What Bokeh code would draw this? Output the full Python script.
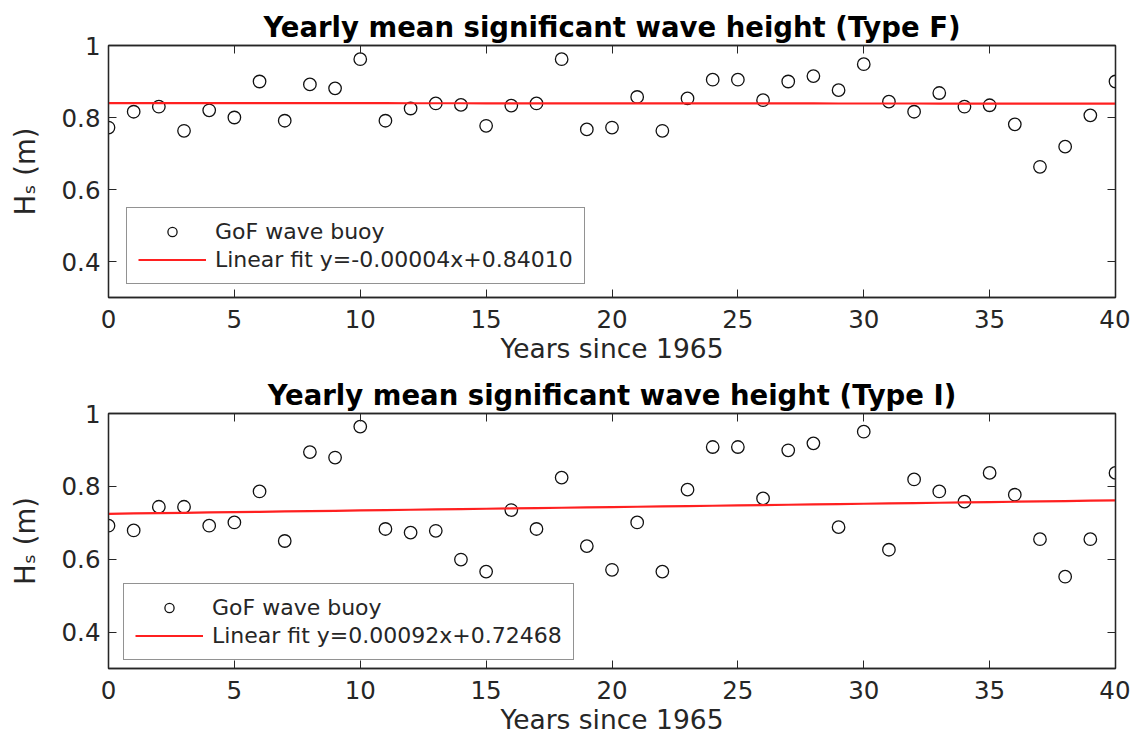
from bokeh.plotting import figure
from bokeh.models import (LinearAxis, FixedTicker, CustomJSTickFormatter, Legend,
                          LegendItem, Range1d)
from bokeh.layouts import column
from bokeh.embed import file_html
from bokeh.resources import INLINE

# ---------------- data ----------------
years = list(range(41))
hs_type_f = [0.772, 0.816, 0.830, 0.763, 0.820, 0.800, 0.900, 0.791, 0.892, 0.881,
             0.962, 0.791, 0.825, 0.839, 0.835, 0.777, 0.833, 0.839, 0.962, 0.767,
             0.772, 0.857, 0.763, 0.853, 0.905, 0.905, 0.848, 0.900, 0.915, 0.876,
             0.948, 0.844, 0.816, 0.868, 0.830, 0.834, 0.781, 0.663, 0.719, 0.806,
             0.900]
hs_type_i = [0.692, 0.679, 0.744, 0.744, 0.692, 0.701, 0.786, 0.650, 0.894, 0.879,
             0.964, 0.683, 0.673, 0.678, 0.599, 0.566, 0.735, 0.683, 0.824, 0.636,
             0.571, 0.701, 0.566, 0.791, 0.908, 0.908, 0.767, 0.899, 0.918, 0.688,
             0.950, 0.626, 0.819, 0.786, 0.758, 0.837, 0.777, 0.655, 0.552, 0.655,
             0.837]
fit_f_slope, fit_f_intercept = -0.00004, 0.84010
fit_i_slope, fit_i_intercept = 0.00092, 0.72468
x_ticks = [0, 5, 10, 15, 20, 25, 30, 35, 40]
y_ticks = [0.4, 0.6, 0.8, 1.0]
titles = ["Yearly mean significant wave height (Type F)",
          "Yearly mean significant wave height (Type I)"]
x_label = "Years since 1965"
y_label = "H\u209b (m)"
series_label = "GoF wave buoy"

FONT = "DejaVu Sans"
AX = "#262626"


def make_panel(title, hs, slope, intercept, fh, btop, bbot, leg_xy):
    p = figure(frame_width=1007, frame_height=fh, output_backend="svg",
               toolbar_location=None,
               x_range=Range1d(0, 40), y_range=Range1d(0.3, 1.0),
               min_border_left=108, min_border_right=15,
               min_border_top=btop, min_border_bottom=bbot,
               title=title)
    p.title.text_font = FONT
    p.title.text_font_size = "27.5px"
    p.title.text_font_style = "bold"
    p.title.text_color = "black"
    p.title.align = "center"
    p.title.standoff = 5
    p.xgrid.visible = False
    p.ygrid.visible = False
    p.outline_line_color = AX
    p.outline_line_width = 1.3
    p.background_fill_color = "white"

    xax = p.below[0]
    yax = p.left[0]
    for ax in (xax, yax):
        ax.axis_line_color = AX
        ax.axis_line_width = 1.3
        ax.major_tick_line_color = AX
        ax.major_tick_in = 8
        ax.major_tick_out = 0
        ax.minor_tick_line_color = None
        ax.major_label_text_font = FONT
        ax.major_label_text_font_size = "24.5px"
        ax.major_label_text_color = AX
        ax.axis_label_text_font = FONT
        ax.axis_label_text_font_style = "normal"
        ax.axis_label_text_color = AX
    xax.ticker = FixedTicker(ticks=x_ticks)
    yax.ticker = FixedTicker(ticks=y_ticks)
    yax.formatter = CustomJSTickFormatter(
        code="return Math.abs(tick-1)<1e-9 ? '1' : tick.toFixed(1);")
    xax.major_label_standoff = 12
    yax.major_label_standoff = 8
    xax.axis_label = x_label
    xax.axis_label_text_font_size = "26.5px"
    xax.axis_label_standoff = 2
    yax.axis_label = y_label
    yax.axis_label_text_font_size = "27.5px"
    yax.axis_label_standoff = 18

    # mirrored ticks on top and right (box with inward ticks)
    for loc, ticks in (("above", x_ticks), ("right", y_ticks)):
        ax = LinearAxis(ticker=FixedTicker(ticks=ticks),
                        formatter=CustomJSTickFormatter(code="return '';"),
                        major_label_text_font_size="0px", major_label_standoff=0,
                        axis_line_color=AX, axis_line_width=1.3,
                        major_tick_line_color=AX, major_tick_in=8, major_tick_out=0,
                        minor_tick_line_color=None)
        p.add_layout(ax, loc)

    pts = p.scatter(years, hs, marker="circle", size=12.5, fill_color=None,
                    line_color="#111111", line_width=1.3)
    fit_y = [slope * x + intercept for x in years]
    ln = p.line(years, fit_y, line_color="#ff2020", line_width=2.2, line_alpha=1.0,
                line_join="round")

    sign = "-" if slope < 0 else ""
    fit_label = "Linear fit y=%s%.5fx+%.5f" % (sign, abs(slope), intercept)
    legend = Legend(items=[LegendItem(label=series_label, renderers=[pts]),
                           LegendItem(label=fit_label, renderers=[ln])],
                    location=leg_xy, orientation="vertical",
                    label_text_font=FONT, label_text_font_size="22px",
                    label_text_color=AX,
                    glyph_width=68, glyph_height=23, label_height=23, spacing=3,
                    label_standoff=9, padding=11, margin=0,
                    border_line_color=AX, border_line_width=1.2,
                    background_fill_color="white", background_fill_alpha=1.0)
    p.add_layout(legend, "center")
    return p


p1 = make_panel(titles[0], hs_type_f, fit_f_slope, fit_f_intercept,
                252, 45, 75, (18, 13))
p2 = make_panel(titles[1], hs_type_i, fit_i_slope, fit_i_intercept,
                255, 41, 72, (15, 8))

layout = column(p1, p2)
open("out.html", "w").write(file_html(layout, INLINE))
